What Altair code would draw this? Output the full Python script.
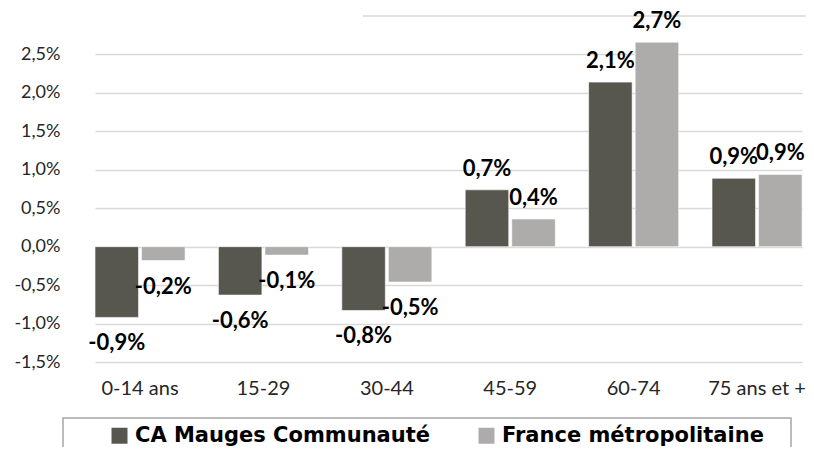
import altair as alt
import pandas as pd

categories = ["0-14 ans", "15-29", "30-44", "45-59", "60-74", "75 ans et +"]
series = ["CA Mauges Communauté", "France métropolitaine"]
ca_values = [-0.92, -0.63, -0.83, 0.74, 2.14, 0.89]
fr_values = [-0.18, -0.11, -0.46, 0.36, 2.66, 0.94]
y_ticks = [-1.5, -1.0, -0.5, 0.0, 0.5, 1.0, 1.5, 2.0, 2.5]
colors = ["#58574F", "#AEABAB"]

FONT = "Lato"
LEG_FONT = "DejaVu Sans"
GRID = "#D9D9D9"


def lab(v):
    return f"{v:.1f}".replace(".", ",") + "%"


rows = []
for c, a, f in zip(categories, ca_values, fr_values):
    rows.append({"cat": c, "series": series[0], "value": a, "label": lab(a)})
    rows.append({"cat": c, "series": series[1], "value": f, "label": lab(f)})
df = pd.DataFrame(rows)

W, H = 728, 346

ylabel = "replace(replace(format(datum.value, '.1f'), '.', ','), '\u2212', '-') + '%'"

base = alt.Chart(df).encode(
    x=alt.X(
        "cat:N",
        sort=categories,
        scale=alt.Scale(paddingInner=0.27, paddingOuter=0, range=[17, 724.1]),
        axis=alt.Axis(
            title=None, labelAngle=0, domain=False, ticks=False,
            labelFontSize=20, labelFont=FONT, labelColor="#262626",
            labelPadding=16, grid=False,
        ),
    ),
    xOffset=alt.XOffset("series:N", sort=series, scale=alt.Scale(paddingInner=0.065)),
    y=alt.Y(
        "value:Q",
        scale=alt.Scale(domain=[-1.5, 3.0], nice=False, zero=False),
        axis=alt.Axis(
            title=None, values=y_ticks, labelExpr=ylabel, domain=False, ticks=False,
            labelFontSize=18, labelFont=FONT, labelColor="#262626", labelPadding=18,
            grid=True, gridColor=GRID, gridWidth=1.3,
        ),
    ),
)

bars = base.mark_bar(stroke="white", strokeWidth=0.6).encode(
    color=alt.Color(
        "series:N",
        sort=series,
        scale=alt.Scale(domain=series, range=colors),
        legend=alt.Legend(
            orient="none", legendX=31, legendY=409, direction="horizontal",
            title=None, symbolType="square", symbolSize=256, symbolStrokeWidth=0,
            labelFontSize=21, labelFont=LEG_FONT, labelFontWeight="bold",
            labelColor="black", labelOffset=5, columnPadding=46, padding=0,
            labelLimit=600,
        ),
    )
)

pos_text = base.transform_filter("datum.value >= 0").mark_text(
    baseline="alphabetic", dy=-14, fontSize=22, fontWeight="bold", font=FONT, color="black"
).encode(text="label:N")

neg_text = base.transform_filter("datum.value < 0").mark_text(
    baseline="top", dy=16, fontSize=22, fontWeight="bold", font=FONT, color="black"
).encode(text="label:N")

top_grid = alt.Chart(pd.DataFrame({"value": [3.0]})).mark_rule(
    color=GRID, strokeWidth=1.3
).encode(y="value:Q", x=alt.value(285), x2=alt.value(W))

legend_box = alt.Chart(pd.DataFrame({"value": [0]})).mark_rect(
    fillOpacity=0, stroke="#A6A6A6", strokeWidth=1.5
).encode(x=alt.value(-15), x2=alt.value(713), y=alt.value(402), y2=alt.value(480))

chart = alt.layer(top_grid, bars, pos_text, neg_text, legend_box).properties(
    width=W, height=H,
    autosize=alt.AutoSizeParams(type="none"),
    padding={"left": 70, "top": 8, "right": 0, "bottom": 85},
).configure_view(stroke=None)

chart.save("out.html", embed_options={"renderer": "svg", "actions": False})
